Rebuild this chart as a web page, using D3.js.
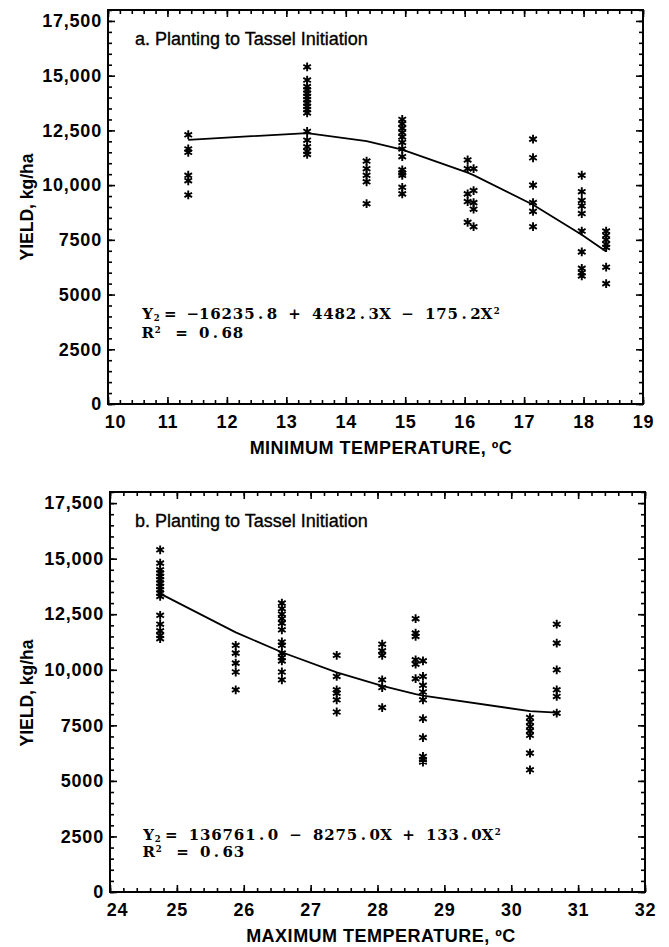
<!DOCTYPE html>
<html><head><meta charset="utf-8">
<script src="https://cdn.jsdelivr.net/npm/d3@7"></script>
<style>body{margin:0;background:#fff} svg{display:block}</style>
</head><body>
<svg id="c" width="669" height="947"></svg>
<script>
// ---- data ----
const minTempA = [11.35, 13.35, 14.35, 14.95, 16.05, 16.15, 17.15, 17.97, 18.38];
const yieldsA = [
  [12300, 11650, 11500, 10450, 10200, 9550],
  [15400, 14800, 14500, 14350, 14200, 14050, 13900, 13750, 13600, 13450, 13300, 12450, 12050, 11750, 11550, 11400],
  [11100, 10750, 10450, 10150, 9150],
  [13000, 12800, 12600, 12400, 12200, 11950, 11650, 11300, 10700, 10550, 10450, 9900, 9600],
  [11150, 10750, 9600, 9250, 8300],
  [10750, 9750, 9200, 8900, 8100],
  [12100, 11250, 10000, 9200, 8800, 8100],
  [10450, 9700, 9300, 9050, 8700, 7900, 6950, 6200, 6000, 5850],
  [7900, 7700, 7500, 7300, 7150, 6250, 5500]
];
const maxTempB = [24.75, 25.88, 26.57, 27.39, 28.07, 28.57, 28.68, 30.28, 30.68];
const yieldsB = [
  [15400, 14800, 14500, 14350, 14200, 14050, 13900, 13750, 13600, 13450, 13300, 12450, 12050, 11750, 11550, 11400],
  [11100, 10750, 10300, 9900, 9100],
  [13000, 12750, 12500, 12300, 12100, 11800, 11250, 11100, 10750, 10550, 10400, 9900, 9550],
  [10650, 9700, 9100, 8950, 8650, 8100],
  [11150, 10850, 10650, 9550, 9200, 8300],
  [12300, 11650, 11500, 10450, 10250, 9600],
  [10400, 9700, 9300, 9000, 8650, 7800, 6950, 6100, 5950, 5850],
  [7850, 7650, 7450, 7250, 7050, 6250, 5500],
  [12050, 11200, 10000, 9100, 8800, 8050]
];
const coefA = [-16235.8, 4482.3, -175.2];
const coefB = [136761.0, -8275.0, 133.0];
const yTicks = [0, 2500, 5000, 7500, 10000, 12500, 15000, 17500];
const yTickLabels = ["0", "2500", "5000", "7500", "10,000", "12,500", "15,000", "17,500"];
const xTicksA = [10, 11, 12, 13, 14, 15, 16, 17, 18, 19];
const xTicksB = [24, 25, 26, 27, 28, 29, 30, 31, 32];
const titleA = "a. Planting to Tassel Initiation";
const titleB = "b. Planting to Tassel Initiation";
const xTitleA = "MINIMUM TEMPERATURE, \u00BAC";
const xTitleB = "MAXIMUM TEMPERATURE, \u00BAC";
const yTitle = "YIELD, kg/ha";
const eqA = ["Y_2= \u221216235.8 + 4482.3X \u2212 175.2X^2", "R^2 = 0.68"];
const eqB = ["Y_2= 136761.0 \u2212 8275.0X + 133.0X^2", "R^2 = 0.63"];

// ---- drawing ----
const svg = d3.select("#c");
const SANS = "'Liberation Sans', Arial, Helvetica, sans-serif";

function starPath(r) {
  const a = r * 0.866, b = r * 0.5;
  return `M0,${-r}L0,${r}M${-a},${-b}L${a},${b}M${-a},${b}L${a},${-b}`;
}

function drawEq(g, x0, y, str) {
  const adv = 11.3;
  const t = g.append("text").attr("font-family", "'DejaVu Serif', serif")
    .attr("font-weight", "bold").attr("font-size", 15).attr("fill", "#000");
  let k = 0;
  for (let i = 0; i < str.length; i++) {
    let ch = str[i], mode = "n";
    if (ch === "_" || ch === "^") { mode = ch; ch = str[++i]; }
    if (ch !== " ") {
      const ts = t.append("tspan").text(ch);
      if (mode === "n") ts.attr("text-anchor", "middle").attr("x", x0 + k * adv + adv / 2).attr("y", y);
      else if (mode === "_") ts.attr("text-anchor", "start").attr("x", x0 + k * adv + 0.5).attr("y", y + 2).attr("font-size", 8.5);
      else ts.attr("text-anchor", "start").attr("x", x0 + k * adv + 1.5).attr("y", y - 5).attr("font-size", 8.5);
    }
    k++;
  }
}

function panel(cfg) {
  const g = svg.append("g");
  const x = d3.scaleLinear().domain(cfg.xDomain).range([cfg.left, cfg.right]);
  const y = d3.scaleLinear().domain([0, 18000]).range([cfg.bottom, cfg.top]);
  const [x0, x1] = cfg.xDomain;
  const xMinor = d3.range(x0, x1 + 0.001, 0.2).map(v => +v.toFixed(2));
  const yMinor = d3.range(0, 18001, 500);

  const styleAxis = sel => {
    sel.select(".domain").remove();
    sel.selectAll("line").attr("stroke", "#000").attr("stroke-width", 1.6);
    sel.selectAll("text").attr("font-family", SANS).attr("font-weight", "bold")
      .attr("font-size", 18).attr("fill", "#000").attr("letter-spacing", 0.8);
  };
  // minor ticks on all sides
  g.append("g").attr("transform", `translate(0,${cfg.bottom})`)
    .call(d3.axisBottom(x).tickValues(xMinor).tickFormat("").tickSize(-4)).call(styleAxis);
  g.append("g").attr("transform", `translate(0,${cfg.top})`)
    .call(d3.axisTop(x).tickValues(xMinor).tickFormat("").tickSize(-4)).call(styleAxis);
  g.append("g").attr("transform", `translate(${cfg.left},0)`)
    .call(d3.axisLeft(y).tickValues(yMinor).tickFormat("").tickSize(-4)).call(styleAxis);
  g.append("g").attr("transform", `translate(${cfg.right},0)`)
    .call(d3.axisRight(y).tickValues(yMinor).tickFormat("").tickSize(-4)).call(styleAxis);
  // major ticks
  const xb = g.append("g").attr("transform", `translate(0,${cfg.bottom})`)
    .call(d3.axisBottom(x).tickValues(cfg.xTicks).tickFormat(d3.format("d")).tickSize(-7).tickPadding(11))
    .call(styleAxis);
  xb.selectAll(".tick text").attr("dx", (d, i) => i === 0 ? 7 : 0);
  g.append("g").attr("transform", `translate(0,${cfg.top})`)
    .call(d3.axisTop(x).tickValues(cfg.xTicks).tickFormat("").tickSize(-7)).call(styleAxis);
  g.append("g").attr("transform", `translate(${cfg.left},0)`)
    .call(d3.axisLeft(y).tickValues(yTicks).tickFormat((d, i) => yTickLabels[i]).tickSize(-7).tickPadding(6))
    .call(styleAxis);
  g.append("g").attr("transform", `translate(${cfg.right},0)`)
    .call(d3.axisRight(y).tickValues(yTicks).tickFormat("").tickSize(-7)).call(styleAxis);
  // frame
  g.append("rect").attr("x", cfg.left).attr("y", cfg.top)
    .attr("width", cfg.right - cfg.left).attr("height", cfg.bottom - cfg.top)
    .attr("fill", "none").attr("stroke", "#000").attr("stroke-width", 2);

  // points
  const pts = [];
  cfg.temps.forEach((t, i) => cfg.yields[i].forEach(v => pts.push([t, v])));
  g.append("g").selectAll("path").data(pts).join("path")
    .attr("transform", d => `translate(${x(d[0])},${y(d[1])})`)
    .attr("d", starPath(4.4)).attr("fill", "none").attr("stroke", "#000").attr("stroke-width", 1.9);

  // fitted curve through the observed temperatures
  const c = cfg.coef;
  const fit = cfg.temps.map(t => [t, c[0] + c[1] * t + c[2] * t * t]);
  g.append("path").datum(fit)
    .attr("d", d3.line().x(d => x(d[0])).y(d => y(d[1])))
    .attr("fill", "none").attr("stroke", "#000").attr("stroke-width", 1.8);

  // texts
  g.append("text").attr("x", 135).attr("y", cfg.top + 35).text(cfg.title)
    .attr("font-family", SANS).attr("font-size", 18).attr("fill", "#000")
    .attr("stroke", "#000").attr("stroke-width", 0.35);
  g.append("text").attr("x", 381).attr("y", cfg.bottom + 50).attr("text-anchor", "middle")
    .text(cfg.xTitle).attr("font-family", SANS).attr("font-weight", "bold")
    .attr("font-size", 18).attr("letter-spacing", 0.5).attr("fill", "#000");
  g.append("text").attr("transform", `translate(33,${cfg.yTitleY}) rotate(-90)`)
    .attr("text-anchor", "middle").text(yTitle)
    .attr("font-family", SANS).attr("font-weight", "bold").attr("font-size", 17.5).attr("fill", "#000");
  drawEq(g, cfg.eqX, cfg.eqY[0], cfg.eq[0]);
  drawEq(g, cfg.eqX, cfg.eqY[1], cfg.eq[1]);
}

panel({ xDomain: [10, 19], left: 108, right: 643, top: 10, bottom: 404,
  xTicks: xTicksA, temps: minTempA, yields: yieldsA, coef: coefA,
  title: titleA, xTitle: xTitleA, yTitleY: 207, eq: eqA, eqX: 142, eqY: [319, 338] });
panel({ xDomain: [24, 32], left: 110, right: 645, top: 492, bottom: 892,
  xTicks: xTicksB, temps: maxTempB, yields: yieldsB, coef: coefB,
  title: titleB, xTitle: xTitleB, yTitleY: 693, eq: eqB, eqX: 143, eqY: [840, 857] });
</script>
</body></html>
